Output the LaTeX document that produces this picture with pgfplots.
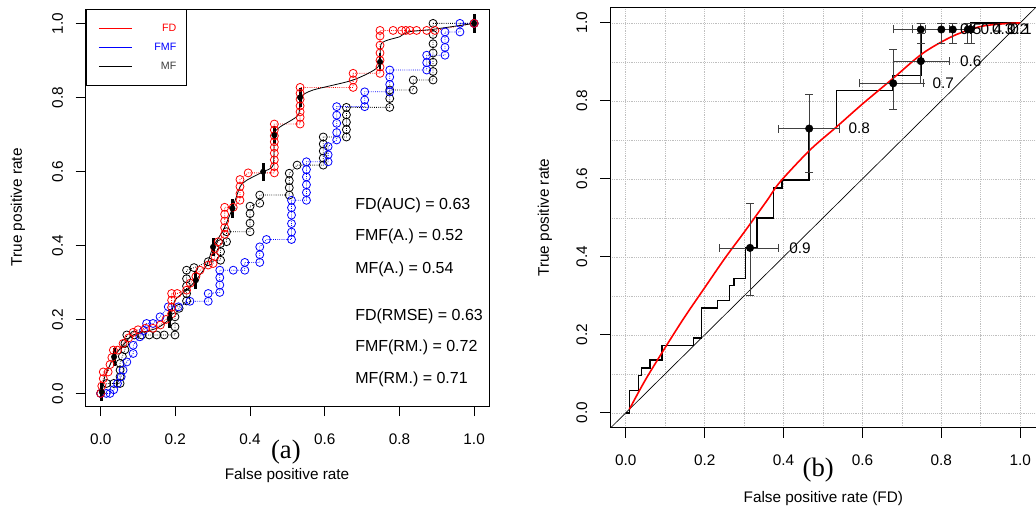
\documentclass[border=0pt]{standalone}
\usepackage{fontspec}
\setmainfont{Liberation Sans}
\newfontfamily\timesfont{Liberation Serif}
\usepackage{pgfplots}
\pgfplotsset{compat=1.18}

\definecolor{rred}{RGB}{255,0,0}
\definecolor{rblue}{RGB}{0,0,255}
\definecolor{rgrey}{RGB}{60,60,60}

\pgfplotsset{
  rbase/.style={
    scale only axis,
    axis line style={line width=0.7pt},
    tick align=outside,
    tick pos=left,
    major tick length=7.5pt,
    tick style={line width=0.7pt, black},
    xtick={0,0.2,...,1}, ytick={0,0.2,...,1},
    tick label style={font=\fontsize{11.5}{13}\selectfont},
    /pgf/number format/fixed,
    /pgf/number format/fixed zerofill,
    /pgf/number format/precision=1,
    /pgf/number format/assume math mode=true,
    yticklabel style={rotate=90, anchor=south},
    xticklabel shift=9.5pt,
    yticklabel shift=6pt,
  },
  roc/.style={densely dotted, line width=0.6pt, mark=o, mark size=3pt,
    mark options={solid, line width=0.6pt}},
}

\begin{document}
\begin{tikzpicture}
\useasboundingbox (0,0) rectangle (777pt,383.25pt);

%% (a) three ROC curves
\begin{axis}[rbase,
  at={(64.3pt,78.75pt)}, anchor=south west,
  width=302.5pt, height=297.5pt,
  xmin=-0.04, xmax=1.04, ymin=-0.034, ymax=1.038,
  legend style={at={(rel axis cs:0,1)}, anchor=north west,
    line width=0.6pt, inner xsep=5.25pt, inner ysep=9pt, row sep=4.25pt,
    font=\fontsize{8}{9}\selectfont,
    nodes={inner sep=2pt, text height=5.5pt, text depth=0.5pt}},
]
\addlegendimage{legend image code/.code={\path (0pt,0pt);
  \draw[draw=rred, solid, line width=0.8pt] (4pt,0pt) -- (29pt,0pt);}}
\addlegendentry{\makebox[30.75pt][r]{\textcolor{rred}{FD}}}
\addlegendimage{legend image code/.code={\path (0pt,0pt);
  \draw[draw=rblue, solid, line width=0.8pt] (4pt,0pt) -- (29pt,0pt);}}
\addlegendentry{\makebox[30.75pt][r]{\textcolor{rblue}{FMF}}}
\addlegendimage{legend image code/.code={\path (0pt,0pt);
  \draw[draw=black, solid, line width=0.8pt] (4pt,0pt) -- (29pt,0pt);}}
\addlegendentry{\makebox[30.75pt][r]{\textcolor{rgrey}{MF}}}

% MF
\addplot[roc, black, forget plot] coordinates {
(0,0)(0.016,0.027)(0.035,0.027)(0.052,0.027)(0.052,0.045)(0.052,0.063)(0.052,0.081)
(0.058,0.1)(0.065,0.118)(0.065,0.135)(0.07,0.158)(0.09,0.158)(0.11,0.158)(0.13,0.158)
(0.15,0.158)(0.17,0.158)(0.199,0.158)(0.199,0.18)(0.199,0.207)(0.21,0.23)(0.23,0.25)
(0.23,0.27)(0.23,0.29)(0.23,0.31)(0.23,0.333)(0.25,0.34)(0.288,0.356)(0.321,0.36)
(0.321,0.383)(0.321,0.405)(0.337,0.41)(0.337,0.437)(0.4,0.437)(0.4,0.46)(0.4,0.486)
(0.4,0.506)(0.426,0.514)(0.426,0.536)(0.505,0.536)(0.505,0.556)(0.505,0.575)(0.505,0.595)
(0.526,0.617)(0.596,0.617)(0.596,0.636)(0.596,0.655)(0.596,0.674)(0.596,0.693)
(0.658,0.693)(0.658,0.713)(0.658,0.733)(0.658,0.753)(0.658,0.773)(0.774,0.773)
(0.774,0.797)(0.774,0.82)(0.837,0.82)(0.837,0.847)(0.89,0.847)(0.89,0.87)(0.89,0.895)
(0.89,0.92)(0.89,0.945)(0.89,0.97)(0.89,1.0)(1,1)
};
% FMF
\addplot[roc, rblue, forget plot] coordinates {
(0,0)(0.015,0)(0.025,0)(0.035,0.01)(0.045,0.027)(0.055,0.045)(0.06,0.063)(0.07,0.085)
(0.087,0.108)(0.087,0.13)(0.105,0.153)(0.115,0.17)(0.123,0.189)(0.14,0.189)(0.159,0.207)
(0.181,0.234)(0.208,0.234)(0.239,0.249)(0.288,0.249)(0.288,0.27)(0.319,0.273)(0.319,0.293)
(0.319,0.313)(0.319,0.333)(0.355,0.333)(0.386,0.333)(0.386,0.354)(0.426,0.354)
(0.426,0.375)(0.426,0.396)(0.444,0.416)(0.511,0.416)(0.511,0.436)(0.511,0.459)
(0.511,0.482)(0.511,0.502)(0.511,0.522)(0.551,0.522)(0.551,0.543)(0.551,0.564)
(0.551,0.585)(0.551,0.605)(0.551,0.626)(0.609,0.626)(0.609,0.645)(0.609,0.667)
(0.632,0.685)(0.632,0.705)(0.632,0.73)(0.632,0.752)(0.632,0.775)(0.707,0.775)
(0.707,0.793)(0.707,0.815)(0.774,0.815)(0.774,0.835)(0.774,0.855)(0.774,0.874)
(0.873,0.874)(0.873,0.894)(0.873,0.914)(0.922,0.914)(0.922,0.935)(0.922,0.956)
(0.922,0.977)(0.962,0.977)(0.962,1.0)(1,1)
};
% FD
\addplot[roc, rred, forget plot] coordinates {
(0,0)(0.003,0.02)(0.007,0.04)(0.007,0.058)(0.02,0.058)(0.025,0.078)(0.03,0.097)
(0.034,0.117)(0.045,0.117)(0.06,0.135)(0.075,0.15)(0.087,0.165)(0.1,0.172)(0.12,0.176)
(0.14,0.176)(0.16,0.185)(0.175,0.2)(0.19,0.215)(0.19,0.233)(0.19,0.252)(0.19,0.27)
(0.205,0.27)(0.23,0.279)(0.24,0.298)(0.255,0.316)(0.266,0.333)(0.288,0.347)(0.301,0.351)
(0.306,0.37)(0.306,0.392)(0.315,0.41)(0.332,0.43)(0.332,0.448)(0.332,0.466)(0.332,0.484)
(0.332,0.503)(0.355,0.503)(0.373,0.522)(0.373,0.54)(0.373,0.559)(0.373,0.578)
(0.395,0.596)(0.465,0.596)(0.465,0.613)(0.465,0.631)(0.465,0.649)(0.465,0.665)
(0.465,0.68)(0.465,0.696)(0.465,0.712)(0.465,0.728)(0.534,0.728)(0.534,0.746)
(0.534,0.761)(0.534,0.777)(0.534,0.795)(0.534,0.811)(0.534,0.827)(0.676,0.827)
(0.676,0.847)(0.676,0.865)(0.748,0.865)(0.748,0.882)(0.748,0.90)(0.748,0.92)
(0.748,0.941)(0.748,0.966)(0.748,0.981)(0.783,0.981)(0.806,0.981)(0.817,0.981)
(0.828,0.981)(0.846,0.981)(0.873,0.981)(0.895,0.981)(1,1)
};
% averaged curve
\addplot[black, line width=0.6pt, smooth, tension=0.4, forget plot] coordinates {
(0.003,0.0)(0.011,0.045)(0.036,0.099)(0.06,0.13)(0.087,0.158)(0.15,0.176)(0.185,0.203)
(0.199,0.252)(0.23,0.279)(0.255,0.306)(0.284,0.347)(0.301,0.396)(0.328,0.441)
(0.351,0.495)(0.373,0.558)(0.391,0.576)(0.435,0.599)(0.462,0.617)(0.465,0.70)
(0.48,0.72)(0.529,0.752)(0.535,0.80)(0.569,0.82)(0.676,0.847)(0.743,0.883)(0.752,0.946)
(0.801,0.964)(0.823,0.977)(0.89,0.984)(1,1)
};
\addplot[only marks, mark=none, forget plot,
  error bars/.cd, y dir=both, y explicit, error mark=none,
  error bar style={line width=2.2pt, black}] coordinates {
(0.003,0.004) +- (0,0.025)
(0.036,0.099) +- (0,0.025)
(0.185,0.203) +- (0,0.025)
(0.255,0.306) +- (0,0.025)
(0.301,0.396) +- (0,0.025)
(0.353,0.5) +- (0,0.025)
(0.435,0.599) +- (0,0.025)
(0.465,0.698) +- (0,0.025)
(0.534,0.80) +- (0,0.025)
(0.748,0.896) +- (0,0.025)
(1,1) +- (0,0.025)
};
\begin{scope}[every node/.style={anchor=west, inner sep=0pt, font=\fontsize{12}{14}\selectfont}]
\node at (axis cs:0.681,0.509) {FD(AUC) = 0.63};
\node at (axis cs:0.681,0.424) {FMF(A.) = 0.52};
\node at (axis cs:0.681,0.334) {MF(A.) = 0.54};
\node at (axis cs:0.681,0.207) {FD(RMSE) = 0.63};
\node at (axis cs:0.681,0.124) {FMF(RM.) = 0.72};
\node at (axis cs:0.681,0.038) {MF(RM.) = 0.71};
\end{scope}
\end{axis}

%% (b) FD ROC with thresholds
\begin{axis}[rbase,
  at={(457.5pt,62.5pt)}, anchor=south west,
  width=319.5pt, height=315.3pt,
  xmin=-0.04, xmax=1.04, ymin=-0.038, ymax=1.04,
  grid=both,
  minor xtick={0.1,0.3,0.5,0.7,0.9}, minor ytick={0.1,0.3,0.5,0.7,0.9},
  minor tick length=0pt,
  major grid style={densely dotted, gray!50, line width=0.5pt},
  minor grid style={densely dotted, gray!50, line width=0.5pt},
]
\addplot[black, line width=0.5pt] coordinates {(-0.04,-0.04)(1.04,1.04)};
\addplot[black, line width=1.1pt] coordinates {
(0,0)(0.01,0)(0.01,0.057)(0.032,0.057)(0.032,0.096)(0.04,0.096)(0.04,0.115)
(0.061,0.115)(0.061,0.135)(0.092,0.135)(0.092,0.173)(0.172,0.173)(0.172,0.192)
(0.192,0.192)(0.192,0.269)(0.233,0.269)(0.233,0.288)(0.263,0.288)(0.263,0.326)
(0.274,0.326)(0.274,0.345)(0.304,0.345)(0.304,0.423)(0.333,0.423)(0.333,0.5)
(0.375,0.5)(0.375,0.577)(0.396,0.577)(0.396,0.597)(0.464,0.597)(0.464,0.729)
(0.534,0.729)(0.534,0.827)(0.678,0.827)(0.678,0.865)(0.748,0.865)(0.748,0.983)
(0.875,0.983)(0.875,1.0)(1,1)
};
\addplot[rred, line width=1.2pt, smooth, tension=0.5] coordinates {
(0.009,0.009)(0.05,0.085)(0.104,0.174)(0.15,0.247)(0.196,0.315)(0.251,0.396)
(0.3,0.463)(0.357,0.543)(0.391,0.592)(0.467,0.674)(0.534,0.733)(0.6,0.792)
(0.678,0.858)(0.753,0.922)(0.829,0.966)(0.897,0.99)(0.95,0.997)(1,1)
};
\addplot[only marks, mark=*, mark size=2.8pt, black,
  error bars/.cd, x dir=both, y dir=both, x explicit, y explicit,
  error bar style={line width=0.5pt, black!75, mark size=3pt}]
  table[x=x, y=y, x error plus=xp, x error minus=xm, y error plus=yp, y error minus=ym] {
x     y     xm    xp    ym    yp
0.315 0.423 0.077 0.072 0.121 0.114
0.465 0.729 0.078 0.076 0.112 0.088
0.678 0.845 0.087 0.075 0.066 0.088
0.748 0.902 0.070 0.073 0.056 0.071
0.748 0.983 0.070 0.052 0.036 0.017
0.800 0.983 0.073 0.050 0.036 0.017
0.829 0.983 0.069 0.041 0.036 0.017
0.867 0.983 0.067 0.015 0.036 0.017
0.875 0.983 0.055 0.007 0.036 0.017
};
\begin{scope}[every node/.style={anchor=west, xshift=26pt, font=\fontsize{11.5}{13}\selectfont}]
\node at (axis cs:0.315,0.423) {0.9};
\node at (axis cs:0.465,0.729) {0.8};
\node at (axis cs:0.678,0.845) {0.7};
\node at (axis cs:0.748,0.902) {0.6};
\node at (axis cs:0.748,0.983) {0.5};
\node at (axis cs:0.800,0.983) {0.4};
\node at (axis cs:0.829,0.983) {0.3};
\node at (axis cs:0.867,0.983) {0.2};
\node at (axis cs:0.875,0.983) {0.1};
\end{scope}
\end{axis}

\node[font=\timesfont\fontsize{20}{22}\selectfont] at (214.4pt,44.5pt) {(a)};
\node[font=\fontsize{11.5}{13}\selectfont] at (215.3pt,26.25pt) {False positive rate};
\node[font=\fontsize{11.5}{13}\selectfont, rotate=90] at (13.5pt,227.8pt) {True positive rate};
\node[font=\timesfont\fontsize{20}{22}\selectfont] at (613.7pt,30.75pt) {(b)};
\node[font=\fontsize{11.5}{13}\selectfont] at (617.5pt,9.5pt) {False positive rate (FD)};
\node[font=\fontsize{11.5}{13}\selectfont, rotate=90] at (408.75pt,220.1pt) {True positive rate};
\end{tikzpicture}
\end{document}
